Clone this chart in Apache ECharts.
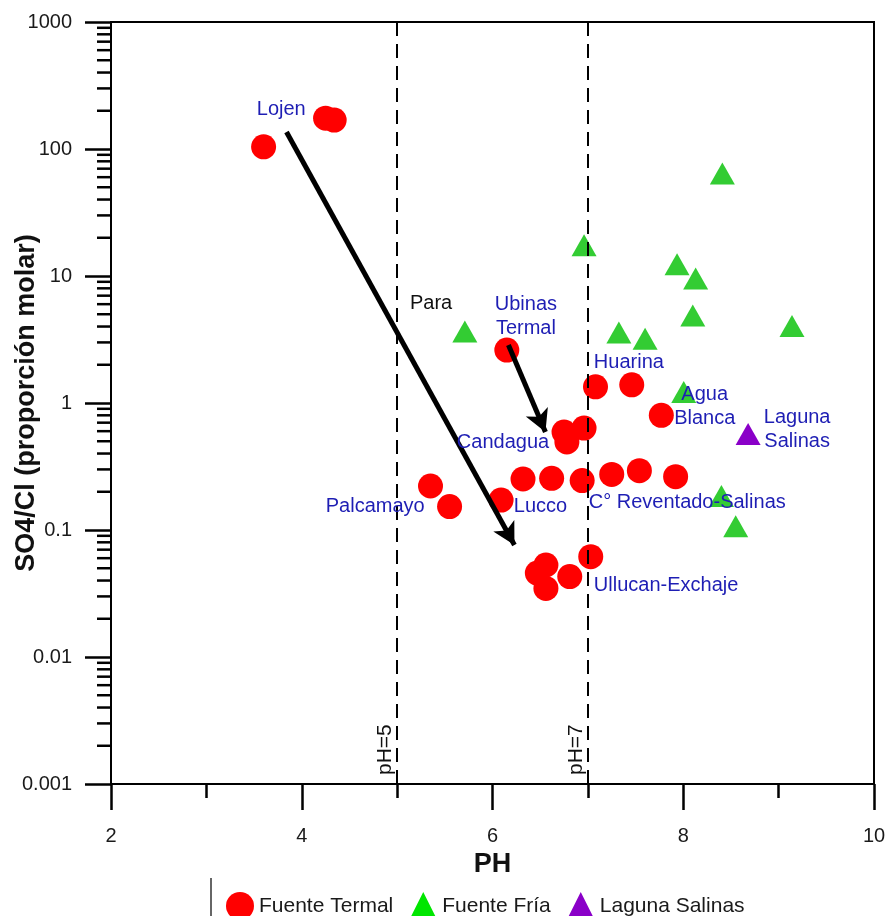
<!DOCTYPE html>
<html>
<head>
<meta charset="utf-8">
<script src="https://cdn.jsdelivr.net/npm/echarts@6/dist/echarts.min.js"></script>
<style>
html,body{margin:0;padding:0;background:#fff;}
#chart{width:887px;height:916px;}
</style>
</head>
<body>
<div id="chart"></div>
<script>
// ---- data ----
const termalPH    = [3.60, 4.25, 4.34, 6.15, 7.08, 7.46, 7.77, 6.75, 6.96, 6.78, 6.32, 6.62, 6.94, 7.25, 7.54, 7.92, 6.09, 5.35, 5.55, 7.03, 6.47, 6.56, 6.81, 6.56];
const termalRatio = [104, 175, 169, 2.61, 1.34, 1.39, 0.80, 0.59, 0.635, 0.493, 0.252, 0.255, 0.245, 0.274, 0.293, 0.263, 0.172, 0.222, 0.153, 0.0617, 0.0458, 0.0530, 0.0430, 0.0347];
const friaPH      = [8.41, 6.96, 7.935, 8.13, 8.10, 9.14, 5.71, 7.325, 7.60, 8.005, 8.40, 8.55];
const friaRatio   = [64.1, 17.5, 12.4, 9.56, 4.89, 4.04, 3.66, 3.59, 3.21, 1.22, 0.185, 0.107];
const salinasPH    = [8.68];
const salinasRatio = [0.57];

const labelNames = ['Lojen', 'Para', 'Ubinas\nTermal', 'Huarina', 'Agua\nBlanca', 'Laguna\nSalinas', 'Candagua', 'Palcamayo', 'Lucco', 'C° Reventado-Salinas', 'Ullucan-Exchaje'];
const labelPH    = [3.785, 5.356, 6.35, 7.43, 8.225, 9.194, 6.11, 4.77, 6.503, 8.042, 7.82];
const labelRatio = [203, 6.13, 4.84, 2.10, 0.947, 0.618, 0.487, 0.152, 0.153, 0.164, 0.0369];

const phLines = [5, 7];
const phLineLabels = ['pH=5', 'pH=7'];

const arrowFrom = [[3.84, 136], [6.167, 2.86]];
const arrowTo   = [[6.23, 0.0762], [6.555, 0.591]];

const xTicks = [2, 4, 6, 8, 10];
const yTickLabels = ['0.001', '0.01', '0.1', '1', '10', '100', '1000'];
const yMinorTicks = [];
for (let k = -3; k <= 2; k++) {
  for (let m = 2; m <= 9; m++) yMinorTicks.push(+(m * Math.pow(10, k)).toPrecision(3));
}

// ---- chart ----
const zip = (a, b) => a.map((v, i) => [v, b[i]]);
const chart = echarts.init(document.getElementById('chart'), null, {renderer: 'canvas'});
const FONT = '"Liberation Sans", Arial, sans-serif';
const BLUE = '#1e1eb4';

const option = {
  animation: false,
  backgroundColor: '#fff',
  grid: {left: 111, right: 13, top: 22, bottom: 132, show: true, borderColor: '#000', borderWidth: 2,
    backgroundColor: 'transparent', containLabel: false, outerBoundsMode: 'none'},
  xAxis: {
    type: 'value', min: xTicks[0], max: xTicks[xTicks.length - 1], interval: 2,
    name: 'PH', nameLocation: 'middle', nameGap: 67, nameMoveOverlap: false,
    nameTextStyle: {fontFamily: FONT, fontWeight: 'bold', fontSize: 27, color: '#111'},
    axisLine: {show: true, lineStyle: {color: '#000', width: 2}},
    axisTick: {show: true, inside: false, length: 26, lineStyle: {color: '#000', width: 2.5}},
    minorTick: {show: true, splitNumber: 2, length: 14, lineStyle: {color: '#000', width: 2.5}},
    axisLabel: {margin: 42, fontFamily: FONT, fontSize: 20, color: '#1a1a1a'},
    splitLine: {show: false}, minorSplitLine: {show: false}
  },
  yAxis: {
    type: 'log', logBase: 10, min: 0.001, max: 1000, splitNumber: 6,
    name: 'SO4/Cl (proporción molar)', nameLocation: 'middle', nameGap: 71, nameMoveOverlap: false,
    nameTextStyle: {fontFamily: FONT, fontWeight: 'bold', fontSize: 27, color: '#111'},
    axisLine: {show: true, lineStyle: {color: '#000', width: 2}},
    axisTick: {show: true, inside: false, length: 26, lineStyle: {color: '#000', width: 2.5}},
    axisLabel: {margin: 39, fontFamily: FONT, fontSize: 20, color: '#1a1a1a',
      formatter: v => yTickLabels[Math.round(Math.log10(v)) + 3]},
    splitLine: {show: false}
  },
  legend: {
    left: 221, top: 887, orient: 'horizontal', itemWidth: 28, itemHeight: 28, itemGap: 16,
    textStyle: {fontFamily: FONT, fontSize: 21, color: '#1a1a1a'},
    data: [
      {name: 'Fuente Termal', icon: 'circle', itemStyle: {color: '#ff0000'}},
      {name: 'Fuente Fría', icon: 'triangle', itemStyle: {color: '#00e600'}},
      {name: 'Laguna Salinas', icon: 'triangle', itemStyle: {color: '#8a00c8'}}
    ]
  },
  graphic: [
    {type: 'line', shape: {x1: 211, y1: 878, x2: 211, y2: 916}, style: {stroke: '#333', lineWidth: 1.5}}
  ],
  series: [
    {
      name: 'minorTicks', type: 'custom', silent: true, clip: false, z: 1,
      data: yMinorTicks.map(v => [xTicks[0], v]),
      renderItem: (params, api) => {
        const p = api.coord([api.value(0), api.value(1)]);
        return {type: 'line', shape: {x1: p[0] - 14, y1: p[1], x2: p[0], y2: p[1]}, style: {stroke: '#000', lineWidth: 2.5}};
      }
    },
    {
      name: 'guides', type: 'scatter', data: [], silent: true,
      markLine: {
        silent: true, symbol: ['none', 'none'], animation: false,
        lineStyle: {color: '#000', width: 2, type: [14, 8]},
        label: {show: true, position: 'insideStartTop', distance: 1, padding: [0, 0, 0, 8],
          fontFamily: FONT, fontSize: 21, color: '#111',
          formatter: p => phLineLabels[p.dataIndex]},
        data: phLines.map(v => ({xAxis: v}))
      }
    },
    {
      name: 'Fuente Termal', type: 'scatter', symbol: 'circle', symbolSize: 25, z: 3,
      itemStyle: {color: '#ff0000', opacity: 1},
      data: zip(termalPH, termalRatio)
    },
    {
      name: 'Fuente Fría', type: 'scatter', symbol: 'triangle', symbolSize: [25, 22], z: 3,
      itemStyle: {color: '#33cc33', opacity: 1},
      data: zip(friaPH, friaRatio)
    },
    {
      name: 'Laguna Salinas', type: 'scatter', symbol: 'triangle', symbolSize: [25, 22], z: 3,
      itemStyle: {color: '#8a00c8', opacity: 1},
      data: zip(salinasPH, salinasRatio)
    },
    {
      name: 'arrows', type: 'scatter', data: [], silent: true, z: 5,
      markLine: {
        silent: true, animation: false, symbol: ['none', 'arrow'], symbolSize: [18, 22],
        lineStyle: {color: '#000', width: 5, type: 'solid'},
        label: {show: false},
        data: arrowFrom.map((f, i) => [{coord: f}, {coord: arrowTo[i]}])
      }
    },
    {
      name: 'labels', type: 'scatter', silent: true, z: 6, symbolSize: 1,
      itemStyle: {color: '#ffffff', opacity: 0},
      label: {show: true, position: 'inside', fontFamily: FONT, fontSize: 20, lineHeight: 24, align: 'center', verticalAlign: 'middle',
        textBorderWidth: 0, textBorderColor: 'transparent', opacity: 1,
        formatter: p => labelNames[p.dataIndex]},
      data: labelPH.map((x, i) => ({
        value: [x, labelRatio[i]],
        label: {color: labelNames[i] === 'Para' ? '#111' : BLUE}
      }))
    }
  ]
};
chart.setOption(option);
</script>
</body>
</html>
